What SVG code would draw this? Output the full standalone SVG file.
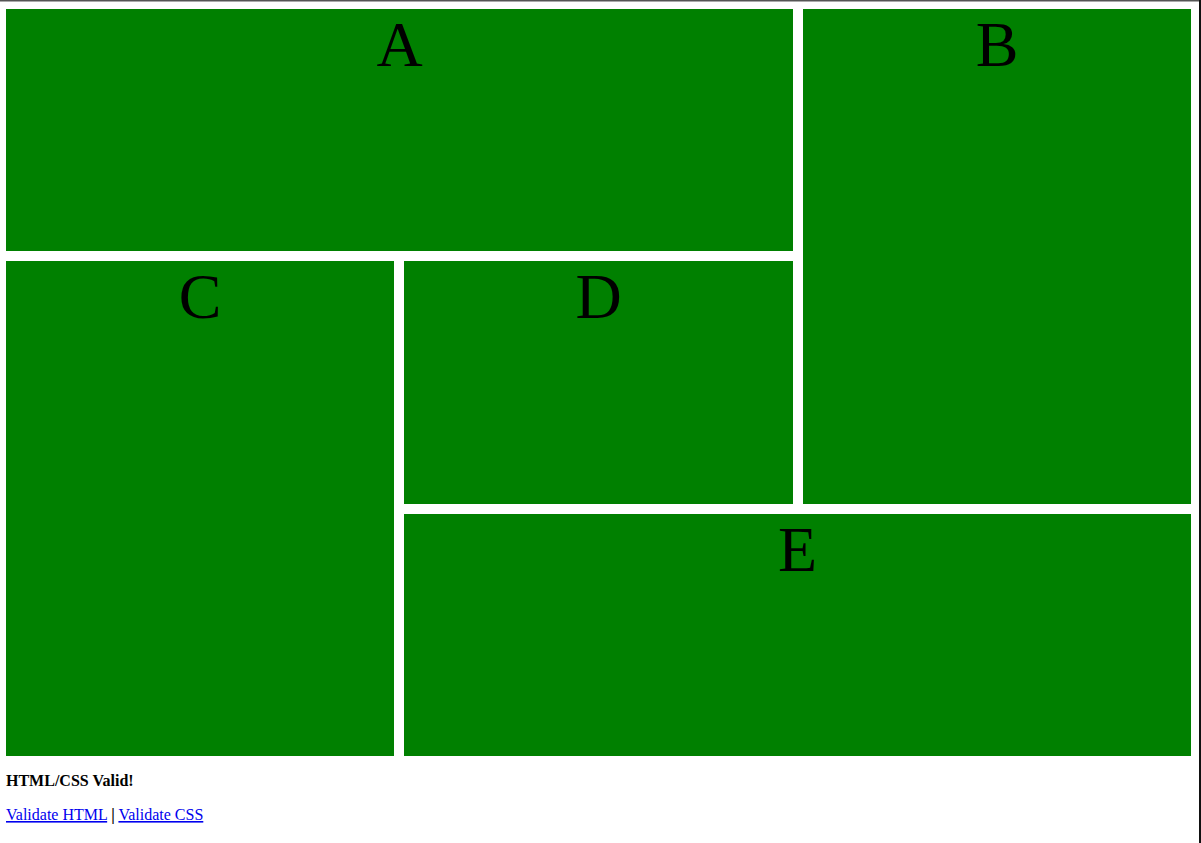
<svg xmlns="http://www.w3.org/2000/svg" width="1201" height="843" viewBox="0 0 1201 843">
<style>
.box{fill:#008000}
.lbl{font-family:"Liberation Serif","Times New Roman",serif;font-size:64px;fill:#000;text-anchor:middle}
.ft{font-family:"Liberation Serif","Times New Roman",serif;font-size:16px;fill:#000}
.lnk{fill:#0000EE;text-decoration:underline}
</style>
<rect x="0" y="0" width="1201" height="843" fill="#fff"/>
<rect x="0" y="0" width="1201" height="1.5" fill="#555"/>
<rect x="1199" y="0" width="2" height="843" fill="#111"/>
<g id="A"><rect class="box" x="6" y="9" width="787" height="242"/><text class="lbl" x="399.5" y="66">A</text></g>
<g id="B"><rect class="box" x="803" y="9" width="388" height="495"/><text class="lbl" x="997" y="66">B</text></g>
<g id="C"><rect class="box" x="6" y="261" width="388" height="495"/><text class="lbl" x="200" y="318">C</text></g>
<g id="D"><rect class="box" x="404" y="261" width="389" height="243"/><text class="lbl" x="598.5" y="318">D</text></g>
<g id="E"><rect class="box" x="404" y="514" width="787" height="242"/><text class="lbl" x="797.5" y="571">E</text></g>
<g id="connectors"></g>
<text class="ft" x="6" y="786" font-weight="bold">HTML/CSS Valid!</text>
<text class="ft" x="6" y="820"><tspan class="lnk">Validate HTML</tspan> <tspan font-weight="bold">|</tspan> <tspan class="lnk">Validate CSS</tspan></text>
</svg>
